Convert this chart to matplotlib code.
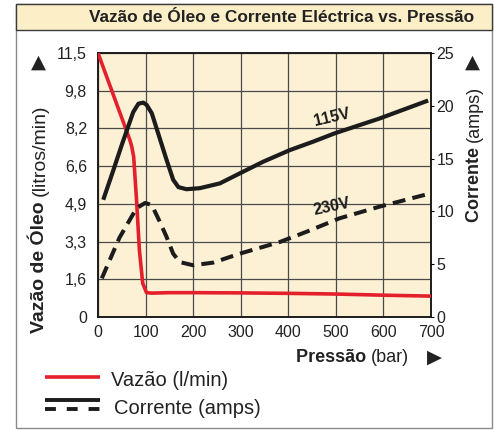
import numpy as np
import matplotlib
matplotlib.use("Agg")
import matplotlib.pyplot as plt
from matplotlib.lines import Line2D
from matplotlib.patches import Rectangle

# data
pressao_vazao = [0, 67, 71, 75, 81, 87, 94, 102, 113, 150, 200, 300, 400, 500, 600, 700]
vazao = [11.5, 7.71, 7.42, 6.98, 5.1, 2.92, 1.47, 1.06, 1.04, 1.06, 1.06, 1.05, 1.03, 1.0, 0.95, 0.91]

pressao_115 = [11, 30, 50, 74, 85, 95, 102, 113, 144, 158, 169, 186, 214, 256, 298,
               347, 403, 452, 498, 592, 694]
corrente_115 = [11.1, 13.6, 16.3, 19.4, 20.2, 20.3, 20.1, 19.3, 14.9, 13.0, 12.3, 12.1,
                12.2, 12.65, 13.6, 14.7, 15.8, 16.6, 17.4, 18.8, 20.5]

pressao_230 = [8, 45, 81, 99, 113, 128, 144, 158, 172, 200, 242, 298, 382, 440, 508, 592, 694]
corrente_230 = [3.66, 7.5, 10.3, 10.8, 10.6, 9.2, 7.6, 6.0, 5.2, 4.9, 5.15, 6.0, 7.1,
                8.1, 9.35, 10.45, 11.65]

x_ticks = [0, 100, 200, 300, 400, 500, 600, 700]
y_left_labels = ["0", "1,6", "3,3", "4,9", "6,6", "8,2", "9,8", "11,5"]
y_right_ticks = [0, 5, 10, 15, 20, 25]

W, H = 494, 430
FONT = "Liberation Sans"
RED = "#e3202b"
BLACK = "#1c1c1c"
TXT = "#222222"


def fx(px):
    return px / W


def fy(py):
    return 1 - py / H


plt.rcParams['font.family'] = [FONT, 'DejaVu Sans']

fig = plt.figure(figsize=(W / 100, H / 100), dpi=100)

# outer frame and title band
fig.patches.append(Rectangle((fx(16), fy(428)), fx(492) - fx(16), fy(4) - fy(428),
                             transform=fig.transFigure, fill=False, edgecolor="#8a8a8a",
                             lw=1.0, zorder=0))
fig.patches.append(Rectangle((fx(16), fy(30)), fx(492) - fx(16), fy(4) - fy(30),
                             transform=fig.transFigure, facecolor="#fcefc8", edgecolor="#3a3a3a",
                             lw=1.0, zorder=0))
fig.text(fx(474), fy(17), "Vazão de Óleo e Corrente Eléctrica vs. Pressão",
         ha="right", va="center", fontsize=12.4, fontweight="bold", color=TXT)

ax = fig.add_axes([fx(98), fy(317), fx(431) - fx(98), fy(53) - fy(317)])
ax.set_facecolor("#fdf1d5")
ax.set_xlim(0, 700)
ax.set_ylim(0, 11.5)
ax.set_xticks(x_ticks)
ax.set_yticks(np.arange(8) * 11.5 / 7)
ax.set_yticklabels(y_left_labels)
ax.tick_params(axis="both", length=0, labelsize=11.5, labelcolor=TXT)
ax.tick_params(axis="y", pad=8)
ax.tick_params(axis="x", pad=6)
ax.grid(True, color="#4a4a4a", lw=0.9)
for s in ax.spines.values():
    s.set_linewidth(1.4)
    s.set_color(BLACK)

ax.plot(pressao_vazao, vazao, color=RED, lw=2.6, solid_joinstyle="round", zorder=3)

ax2 = ax.twinx()
ax2.set_ylim(0, 25)
ax2.set_yticks(y_right_ticks)
ax2.tick_params(axis="y", length=2, width=0.8, pad=2, labelsize=11.5, labelcolor=TXT)
for s in ax2.spines.values():
    s.set_visible(False)

ax2.plot(pressao_115, corrente_115, color=BLACK, lw=3.0, solid_joinstyle="round",
         solid_capstyle="butt", zorder=4)
ax2.plot(pressao_230, corrente_230, color=BLACK, lw=2.9, linestyle=(0, (3.2, 1.8)),
         dash_capstyle="butt", zorder=4)
ax2.text(491, 18.9, "115V", rotation=13, ha="center", va="center", fontsize=11.5,
         fontweight="bold", color=BLACK)
ax2.text(491, 10.4, "230V", rotation=12, ha="center", va="center", fontsize=11.5,
         fontweight="bold", color=BLACK)

# axis titles built from bold + regular pieces
renderer = fig.canvas.get_renderer()

t1 = fig.text(fx(40), fy(333), "Vazão de Óleo ", rotation=90, ha="center", va="bottom",
              fontsize=14, fontweight="bold", color=TXT)
h1 = t1.get_window_extent(renderer).height
fig.text(fx(40), fy(333 - h1), "(litros/min)", rotation=90, ha="center", va="bottom",
         fontsize=14, color=TXT)
fig.text(fx(38), fy(62), "▲", ha="center", va="center", fontsize=14,
         family="DejaVu Sans", color=TXT)

t2 = fig.text(fx(474), fy(222), "Corrente ", rotation=90, ha="center", va="bottom",
              fontsize=13, fontweight="bold", color=TXT)
h2 = t2.get_window_extent(renderer).height
fig.text(fx(474), fy(222 - h2), "(amps)", rotation=90, ha="center", va="bottom",
         fontsize=13, color=TXT)
fig.text(fx(472), fy(62), "▲", ha="center", va="center", fontsize=14,
         family="DejaVu Sans", color=TXT)

t3 = fig.text(fx(296), fy(357), "Pressão ", ha="left", va="center", fontsize=13,
              fontweight="bold", color=TXT)
w3 = t3.get_window_extent(renderer).width
fig.text(fx(296 + w3), fy(357), "(bar)", ha="left", va="center", fontsize=13, color=TXT)
fig.text(fx(434), fy(357), "▶", ha="center", va="center", fontsize=14,
         family="DejaVu Sans", color=TXT)

# legend
fig.lines.append(Line2D([fx(45), fx(100)], [fy(377), fy(377)], transform=fig.transFigure,
                        color=RED, lw=2.6, solid_capstyle="butt"))
fig.lines.append(Line2D([fx(45), fx(100)], [fy(400), fy(400)], transform=fig.transFigure,
                        color=BLACK, lw=2.8, solid_capstyle="butt"))
fig.lines.append(Line2D([fx(45), fx(100)], [fy(409), fy(409)], transform=fig.transFigure,
                        color=BLACK, lw=2.8, linestyle=(0, (2.8, 2.8)), dash_capstyle="butt"))
fig.text(fx(111), fy(380), "Vazão (l/min)", ha="left", va="center", fontsize=14.5, color=TXT)
fig.text(fx(114), fy(408), "Corrente (amps)", ha="left", va="center", fontsize=14.5, color=TXT)

fig.savefig("out.png", dpi=100)
